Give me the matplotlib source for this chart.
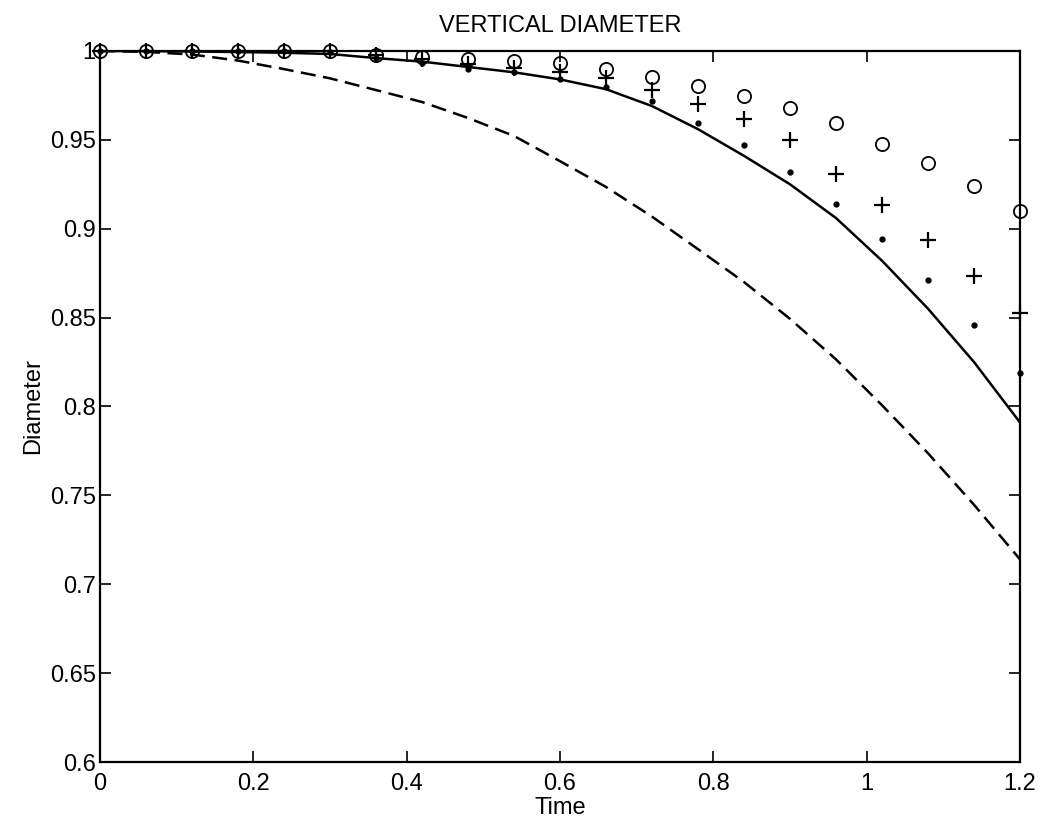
import matplotlib
matplotlib.use("Agg")
import matplotlib.pyplot as plt
import numpy as np

plt.rcParams['font.family'] = ['Liberation Sans', 'DejaVu Sans']

# sample times
t = [0, 0.06, 0.12, 0.18, 0.24, 0.3, 0.36, 0.42, 0.48, 0.54, 0.6,
     0.66, 0.72, 0.78, 0.84, 0.9, 0.96, 1.02, 1.08, 1.14, 1.2]

# solid curve
solid = [1.0, 0.9999, 0.9997, 0.9994, 0.999, 0.9983, 0.996, 0.994, 0.991, 0.988, 0.984,
         0.9785, 0.969, 0.956, 0.941, 0.925, 0.906, 0.882, 0.855, 0.825, 0.791]

# dashed curve
dashed = [1.0, 0.9995, 0.998, 0.9946, 0.9898, 0.9846, 0.978, 0.9713, 0.9623, 0.9522, 0.938,
          0.9235, 0.9068, 0.8885, 0.870, 0.8493, 0.8265, 0.8007, 0.7737, 0.7447, 0.714]

# markers
circles = [1.0, 1.0, 1.0, 1.0, 1.0, 1.0, 0.9978, 0.9968, 0.9953, 0.9945, 0.993,
           0.9897, 0.9852, 0.9805, 0.9749, 0.9678, 0.9597, 0.9475, 0.9368, 0.9242, 0.910]
pluses = [1.0, 1.0, 1.0, 1.0, 1.0, 1.0, 0.998, 0.9955, 0.9925, 0.9905, 0.988,
          0.985, 0.978, 0.9702, 0.9616, 0.950, 0.9308, 0.9132, 0.8937, 0.8735, 0.8526]
dots = [1.0, 1.0, 1.0, 1.0, 1.0, 0.9995, 0.996, 0.993, 0.990, 0.988, 0.9845,
        0.9799, 0.9717, 0.9595, 0.947, 0.9321, 0.9141, 0.8941, 0.871, 0.8457, 0.8187]

fig = plt.figure(figsize=(10.48, 8.3), dpi=100)
ax = fig.add_axes([0.0954, 0.0819, 0.8779, 0.8567])

ax.plot(t, solid, color='black', lw=1.8)
ax.plot(t, dashed, color='black', lw=1.8, dashes=(6, 3))
ax.plot(t, circles, linestyle='none', marker='o', markersize=9.5,
        markerfacecolor='none', markeredgecolor='black', markeredgewidth=1.3, clip_on=False)
ax.plot(t, pluses, linestyle='none', marker='+', markersize=11,
        color='black', markeredgewidth=1.6, clip_on=False)
ax.plot(t, dots, linestyle='none', marker='.', markersize=7,
        color='black', clip_on=False)

ax.set_xlim(0, 1.2)
ax.set_ylim(0.6, 1.0)
ax.set_xticks([0, 0.2, 0.4, 0.6, 0.8, 1, 1.2])
ax.set_xticklabels(['0', '0.2', '0.4', '0.6', '0.8', '1', '1.2'])
ax.set_yticks([0.6, 0.65, 0.7, 0.75, 0.8, 0.85, 0.9, 0.95, 1])
ax.set_yticklabels(['0.6', '0.65', '0.7', '0.75', '0.8', '0.85', '0.9', '0.95', '1'])
ax.tick_params(direction='in', top=True, right=True, length=8, width=1.2,
               labelsize=17)
ax.tick_params(axis='x', pad=8)
ax.tick_params(axis='y', pad=3)
for s in ax.spines.values():
    s.set_linewidth(1.6)

ax.set_title('VERTICAL DIAMETER', fontsize=17, pad=14)
ax.set_xlabel('Time', fontsize=17, labelpad=1)
ax.set_ylabel('Diameter', fontsize=17, labelpad=4)

fig.savefig('out.png', dpi=100)
